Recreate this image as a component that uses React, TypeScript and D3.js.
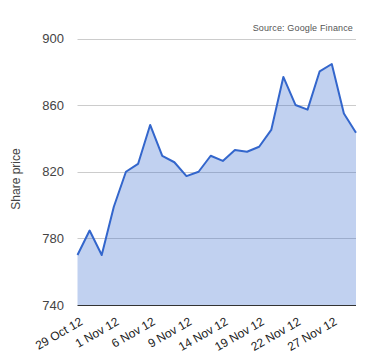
import React, { useEffect, useRef } from 'react';
import * as d3 from 'd3';

// Trading days shown on the chart
const dates = [
    '29 Oct 12', '30 Oct 12', '31 Oct 12', '1 Nov 12', '2 Nov 12', '5 Nov 12',
    '6 Nov 12', '7 Nov 12', '8 Nov 12', '9 Nov 12', '12 Nov 12', '13 Nov 12',
    '14 Nov 12', '15 Nov 12', '16 Nov 12', '19 Nov 12', '20 Nov 12', '21 Nov 12',
    '22 Nov 12', '23 Nov 12', '26 Nov 12', '27 Nov 12', '28 Nov 12', '29 Nov 12',
];

const prices = [
    770.0, 784.7, 770.0, 799.0, 820.0, 824.7, 848.1, 829.5, 825.7, 817.4, 820.0, 829.6,
    826.5, 833.1, 832.0, 835.0, 845.1, 876.9, 860.1, 857.3, 880.3, 884.7, 855.0, 843.4,
];

const xTickLabels = ['29 Oct 12', '1 Nov 12', '6 Nov 12', '9 Nov 12', '14 Nov 12', '19 Nov 12', '22 Nov 12', '27 Nov 12'];
const yTicks = [740, 780, 820, 860, 900];

const App: React.FC = () => {
    const svgRef = useRef<SVGSVGElement>(null);

    useEffect(() => {
        d3.select(svgRef.current).selectAll('*').remove();

        const width = 380;
        const height = 360;
        const margin = { top: 38.5, right: 24, bottom: 55, left: 77.5 };

        const svg = d3.select(svgRef.current)
            .attr('width', width)
            .attr('height', height)
            .style('font-family', 'Arial, "Liberation Sans", sans-serif');

        const x = d3.scalePoint<string>()
            .domain(dates)
            .range([margin.left, width - margin.right]);

        const y = d3.scaleLinear()
            .domain([740, 900])
            .range([height - margin.bottom, margin.top]);

        // Gridlines
        svg.append('g')
            .selectAll('line')
            .data(yTicks.slice(1))
            .enter()
            .append('line')
            .attr('x1', margin.left)
            .attr('x2', width - margin.right)
            .attr('y1', d => Math.round(y(d)) + 0.5)
            .attr('y2', d => Math.round(y(d)) + 0.5)
            .attr('stroke', '#cccccc');

        // Y labels
        svg.append('g')
            .selectAll('text')
            .data(yTicks)
            .enter()
            .append('text')
            .attr('x', 64)
            .attr('y', d => y(d) + 4.5)
            .attr('text-anchor', 'end')
            .attr('font-size', 13)
            .attr('fill', '#444')
            .text(d => d);

        const area = d3.area<number>()
            .x((_, i) => x(dates[i]) as number)
            .y0(y(740))
            .y1(d => y(d));

        const line = d3.line<number>()
            .x((_, i) => x(dates[i]) as number)
            .y(d => y(d));

        svg.append('path')
            .datum(prices)
            .attr('d', area)
            .attr('fill', '#3366cc')
            .attr('fill-opacity', 0.3);

        svg.append('path')
            .datum(prices)
            .attr('d', line)
            .attr('fill', 'none')
            .attr('stroke', '#3366cc')
            .attr('stroke-width', 2)
            .attr('stroke-linejoin', 'round');

        // Baseline
        svg.append('line')
            .attr('x1', margin.left)
            .attr('x2', width - margin.right)
            .attr('y1', Math.round(y(740)) + 0.5)
            .attr('y2', Math.round(y(740)) + 0.5)
            .attr('stroke', '#333');

        // X labels
        svg.append('g')
            .selectAll('text')
            .data(xTickLabels)
            .enter()
            .append('text')
            .attr('transform', d => `translate(${(x(d) as number) + 6},${324}) rotate(-30)`)
            .attr('text-anchor', 'end')
            .attr('font-size', 12)
            .attr('fill', '#222')
            .text(d => d);

        // Axis title
        svg.append('text')
            .attr('transform', `translate(20,179) rotate(-90)`)
            .attr('text-anchor', 'middle')
            .attr('font-size', 12)
            .attr('fill', '#444')
            .text('Share price');

        svg.append('text')
            .attr('x', 353)
            .attr('y', 31)
            .attr('text-anchor', 'end')
            .attr('font-size', 9)
            .attr('letter-spacing', 0.15)
            .attr('fill', '#555')
            .text('Source: Google Finance');
    }, []);

    return (
        <svg ref={svgRef} style={{ position: 'absolute', left: 0, top: 0 }}></svg>
    );
};

export default App;
